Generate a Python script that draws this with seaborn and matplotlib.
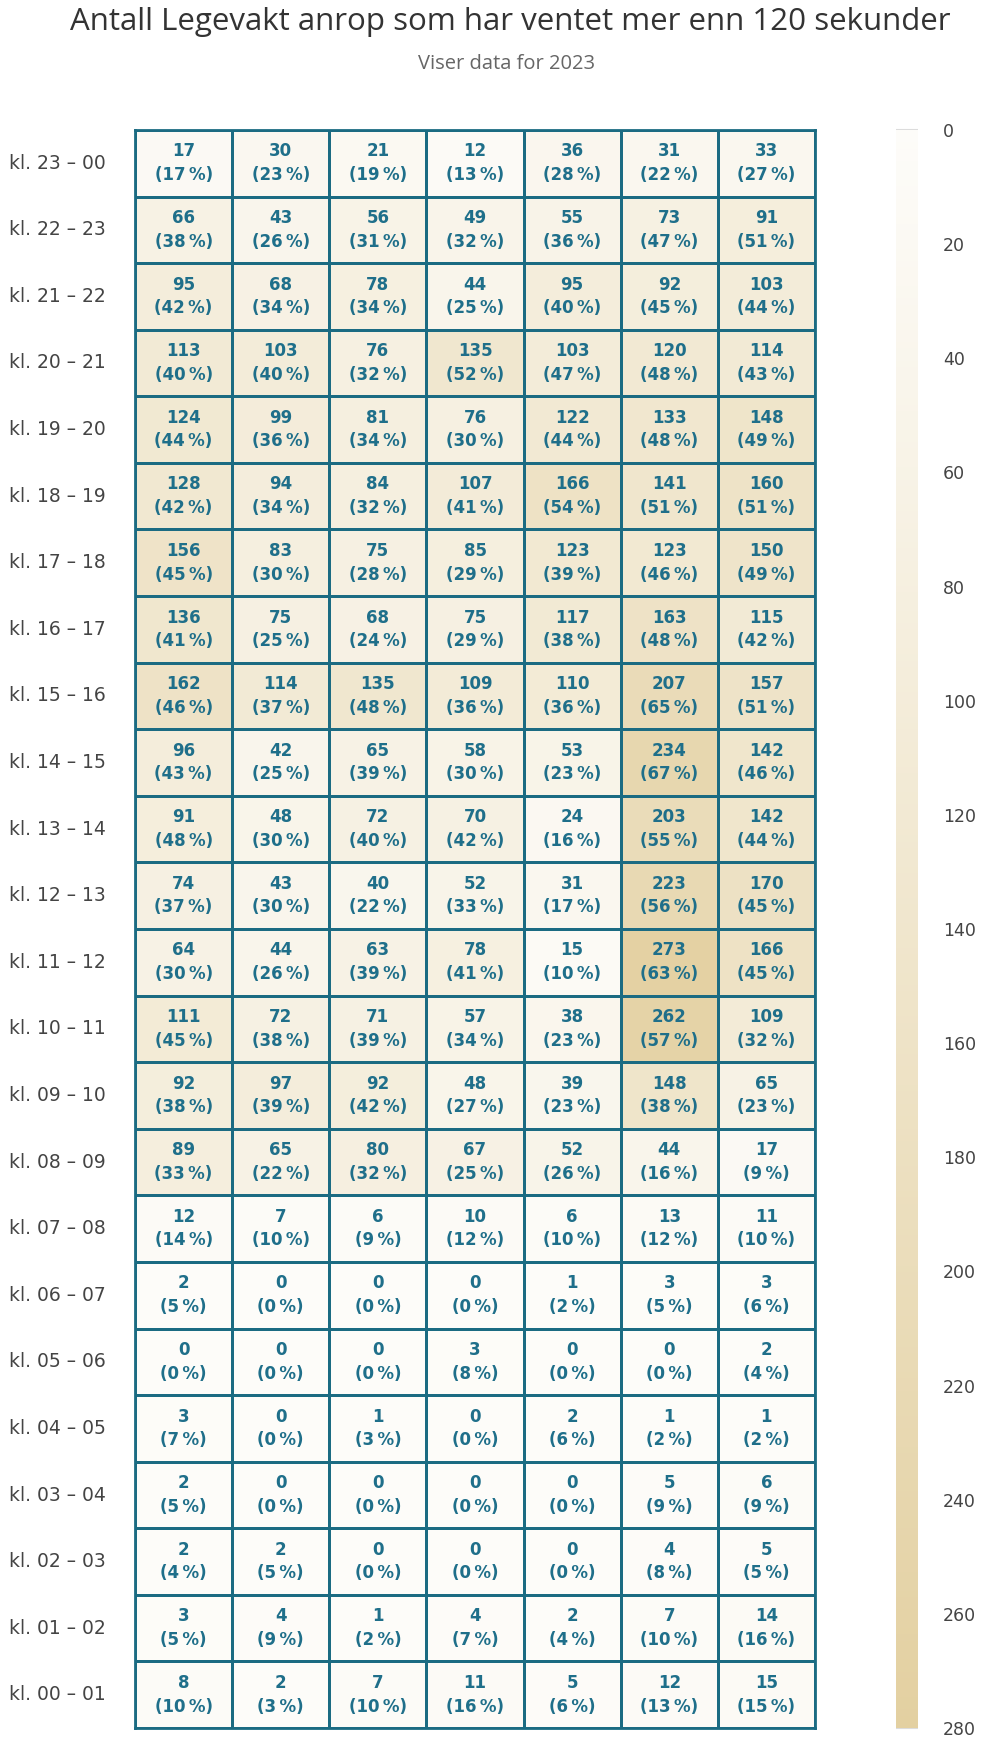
import numpy as np
import pandas as pd
import matplotlib
matplotlib.use("Agg")
import matplotlib.pyplot as plt
import seaborn as sns
from matplotlib.colors import LinearSegmentedColormap

# rows top to bottom: kl. 23-00 ... kl. 00-01, 7 columns each
hours = ["kl. 23 – 00", "kl. 22 – 23", "kl. 21 – 22", "kl. 20 – 21", "kl. 19 – 20",
         "kl. 18 – 19", "kl. 17 – 18", "kl. 16 – 17", "kl. 15 – 16", "kl. 14 – 15",
         "kl. 13 – 14", "kl. 12 – 13", "kl. 11 – 12", "kl. 10 – 11", "kl. 09 – 10",
         "kl. 08 – 09", "kl. 07 – 08", "kl. 06 – 07", "kl. 05 – 06", "kl. 04 – 05",
         "kl. 03 – 04", "kl. 02 – 03", "kl. 01 – 02", "kl. 00 – 01"]
days = ["d1", "d2", "d3", "d4", "d5", "d6", "d7"]

counts = [
    [17, 30, 21, 12, 36, 31, 33],
    [66, 43, 56, 49, 55, 73, 91],
    [95, 68, 78, 44, 95, 92, 103],
    [113, 103, 76, 135, 103, 120, 114],
    [124, 99, 81, 76, 122, 133, 148],
    [128, 94, 84, 107, 166, 141, 160],
    [156, 83, 75, 85, 123, 123, 150],
    [136, 75, 68, 75, 117, 163, 115],
    [162, 114, 135, 109, 110, 207, 157],
    [96, 42, 65, 58, 53, 234, 142],
    [91, 48, 72, 70, 24, 203, 142],
    [74, 43, 40, 52, 31, 223, 170],
    [64, 44, 63, 78, 15, 273, 166],
    [111, 72, 71, 57, 38, 262, 109],
    [92, 97, 92, 48, 39, 148, 65],
    [89, 65, 80, 67, 52, 44, 17],
    [12, 7, 6, 10, 6, 13, 11],
    [2, 0, 0, 0, 1, 3, 3],
    [0, 0, 0, 3, 0, 0, 2],
    [3, 0, 1, 0, 2, 1, 1],
    [2, 0, 0, 0, 0, 5, 6],
    [2, 2, 0, 0, 0, 4, 5],
    [3, 4, 1, 4, 2, 7, 14],
    [8, 2, 7, 11, 5, 12, 15],
]
percents = [
    [17, 23, 19, 13, 28, 22, 27],
    [38, 26, 31, 32, 36, 47, 51],
    [42, 34, 34, 25, 40, 45, 44],
    [40, 40, 32, 52, 47, 48, 43],
    [44, 36, 34, 30, 44, 48, 49],
    [42, 34, 32, 41, 54, 51, 51],
    [45, 30, 28, 29, 39, 46, 49],
    [41, 25, 24, 29, 38, 48, 42],
    [46, 37, 48, 36, 36, 65, 51],
    [43, 25, 39, 30, 23, 67, 46],
    [48, 30, 40, 42, 16, 55, 44],
    [37, 30, 22, 33, 17, 56, 45],
    [30, 26, 39, 41, 10, 63, 45],
    [45, 38, 39, 34, 23, 57, 32],
    [38, 39, 42, 27, 23, 38, 23],
    [33, 22, 32, 25, 26, 16, 9],
    [14, 10, 9, 12, 10, 12, 10],
    [5, 0, 0, 0, 2, 5, 6],
    [0, 0, 0, 8, 0, 0, 4],
    [7, 0, 3, 0, 6, 2, 2],
    [5, 0, 0, 0, 0, 9, 9],
    [4, 5, 0, 0, 0, 8, 5],
    [5, 9, 2, 7, 4, 10, 16],
    [10, 3, 10, 16, 6, 13, 15],
]

df = pd.DataFrame(counts, index=hours, columns=days)
labels = np.array([[f"{c}\n({p}\u2009%)" for c, p in zip(rc, rp)]
                   for rc, rp in zip(counts, percents)])

teal = "#1b6b82"
cmap = LinearSegmentedColormap.from_list("sand", ["#fdfcf9", "#e3d0a1"])

sns.set_style("white")
plt.rcParams["font.family"] = ["DejaVu Sans"]

fig = plt.figure(figsize=(10, 17.51), dpi=100)
ax = fig.add_axes([0.135, 0.0131, 0.68, 0.9127])
cax = fig.add_axes([0.896, 0.0131, 0.022, 0.9127])

sns.heatmap(df, annot=labels, fmt="", cmap=cmap, vmin=0, vmax=280,
            linewidths=2, linecolor=teal, ax=ax, cbar_ax=cax,
            annot_kws={"color": "#1f6f8a", "fontsize": 12, "fontweight": "bold",
                       "linespacing": 1.4})

for s in ax.spines.values():
    s.set_visible(True)
    s.set_color(teal)
    s.set_linewidth(2)

ax.set_xticks([])
ax.set_xlabel("")
ax.set_ylabel("")
ax.tick_params(axis="y", length=0, pad=21, labelsize=13.5, labelcolor="#444444")
plt.setp(ax.get_yticklabels(), rotation=0)

cbar = ax.collections[0].colorbar
cbar.outline.set_visible(False)
cbar.set_ticks(list(range(0, 281, 20)))
cax.invert_yaxis()
cax.tick_params(direction="in", length=16, width=1.5, color="#dcdcdc",
                pad=18, labelsize=12.5, labelcolor="#444444")

fig.text(0.51, 0.9875, "Antall Legevakt anrop som har ventet mer enn 120 sekunder",
         ha="center", va="center", fontsize=22.5, color="#333333", family="Open Sans")
fig.text(0.507, 0.9636, "Viser data for 2023", ha="center", va="center",
         fontsize=14.5, color="#666666", family="Open Sans")

fig.savefig("out.png", dpi=100)
